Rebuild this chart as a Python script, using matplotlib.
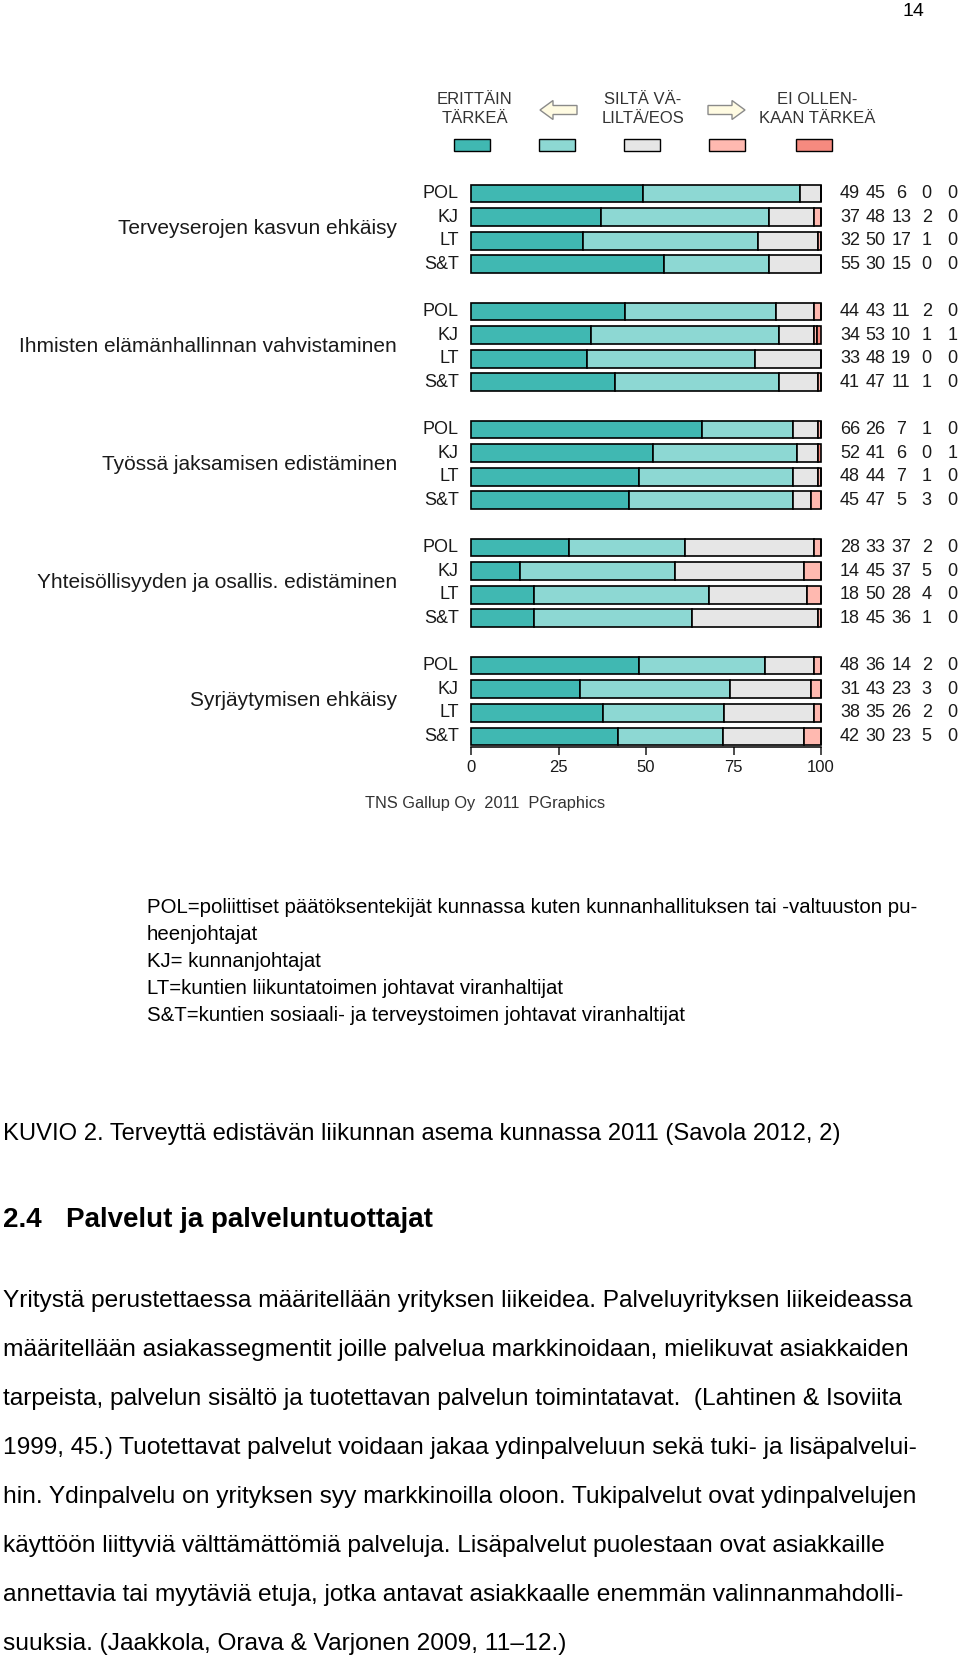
import numpy as np
import matplotlib
matplotlib.use('Agg')
import matplotlib.pyplot as plt
from matplotlib.patches import Rectangle, FancyArrow

plt.rcParams['font.family'] = ['Liberation Sans', 'DejaVu Sans']

# --- data ---
categories = ['Terveyserojen kasvun ehkäisy',
              'Ihmisten elämänhallinnan vahvistaminen',
              'Työssä jaksamisen edistäminen',
              'Yhteisöllisyyden ja osallis. edistäminen',
              'Syrjäytymisen ehkäisy']
respondents = ['POL', 'KJ', 'LT', 'S&T']
answers = ['ERITTÄIN\nTÄRKEÄ', '', 'SILTÄ VÄ-\nLILTÄ/EOS', '', 'EI OLLEN-\nKAAN TÄRKEÄ']

terveyserot = [[49, 45, 6, 0, 0], [37, 48, 13, 2, 0], [32, 50, 17, 1, 0], [55, 30, 15, 0, 0]]
elamanhallinta = [[44, 43, 11, 2, 0], [34, 53, 10, 1, 1], [33, 48, 19, 0, 0], [41, 47, 11, 1, 0]]
tyossa_jaksaminen = [[66, 26, 7, 1, 0], [52, 41, 6, 0, 1], [48, 44, 7, 1, 0], [45, 47, 5, 3, 0]]
yhteisollisyys = [[28, 33, 37, 2, 0], [14, 45, 37, 5, 0], [18, 50, 28, 4, 0], [18, 45, 36, 1, 0]]
syrjaytyminen = [[48, 36, 14, 2, 0], [31, 43, 23, 3, 0], [38, 35, 26, 2, 0], [42, 30, 23, 5, 0]]

ticks = [0, 25, 50, 75, 100]
colors = ['#40b8b2', '#8dd8d3', '#e6e6e6', '#ffb9b0', '#f68a7f']

footnote = ['POL=poliittiset päätöksentekijät kunnassa kuten kunnanhallituksen tai -valtuuston pu-',
            'heenjohtajat',
            'KJ= kunnanjohtajat',
            'LT=kuntien liikuntatoimen johtavat viranhaltijat',
            'S&T=kuntien sosiaali- ja terveystoimen johtavat viranhaltijat']
caption = 'KUVIO 2. Terveyttä edistävän liikunnan asema kunnassa 2011 (Savola 2012, 2)'
body = ['Yritystä perustettaessa määritellään yrityksen liikeidea. Palveluyrityksen liikeideassa',
        'määritellään asiakassegmentit joille palvelua markkinoidaan, mielikuvat asiakkaiden',
        'tarpeista, palvelun sisältö ja tuotettavan palvelun toimintatavat.  (Lahtinen & Isoviita',
        '1999, 45.) Tuotettavat palvelut voidaan jakaa ydinpalveluun sekä tuki- ja lisäpalvelui-',
        'hin. Ydinpalvelu on yrityksen syy markkinoilla oloon. Tukipalvelut ovat ydinpalvelujen',
        'käyttöön liittyviä välttämättömiä palveluja. Lisäpalvelut puolestaan ovat asiakkaille',
        'annettavia tai myytäviä etuja, jotka antavat asiakkaalle enemmän valinnanmahdolli-',
        'suuksia. (Jaakkola, Orava & Varjonen 2009, 11–12.)']
body_ends = [910, 909, 918, 919, 921, 897, 912, 554]

data = np.array([terveyserot, elamanhallinta, tyossa_jaksaminen, yhteisollisyys, syrjaytyminen], float)

fig = plt.figure(figsize=(9.6, 16.6), dpi=100)
renderer = fig.canvas.get_renderer()

# page layer in pixel coordinates
page = fig.add_axes([0, 0, 1, 1])
page.set_xlim(0, 960)
page.set_ylim(1660, 0)
page.axis('off')

# --- bars ---
ax = fig.add_axes([471 / 960, 1 - 747 / 1660, 350 / 960, (747 - 177.4) / 1660])
rows = data.reshape(-1, 5)
rows = rows / rows.sum(axis=1, keepdims=True) * 100
ypos = np.array([g * 5 + r for g in range(len(categories)) for r in range(len(respondents))])
left = np.zeros(len(rows))
for k in range(5):
    ax.barh(ypos, rows[:, k], left=left, height=0.75, color=colors[k],
            edgecolor='black', linewidth=1.2, clip_on=False)
    left += rows[:, k]

raw = data.reshape(-1, 5).astype(int)
for i, y in enumerate(ypos):
    ax.text(-3.5, y, respondents[i % 4], ha='right', va='center', fontsize=13, color='#1a1a1a')
    for k in range(5):
        ax.text(108.3 + 7.3 * k, y, str(raw[i, k]), ha='center', va='center',
                fontsize=13, color='#1a1a1a', clip_on=False)
for g, cat in enumerate(categories):
    ax.text(-21.1, g * 5 + 1.5, cat, ha='right', va='center', fontsize=15, color='#1a1a1a')

ax.set_xlim(0, 100)
ax.set_ylim(23.45, -0.68)
for s in ['top', 'right', 'left']:
    ax.spines[s].set_visible(False)
ax.spines['bottom'].set_bounds(0, 100)
ax.spines['bottom'].set_linewidth(1.1)
ax.set_xticks(ticks)
ax.set_yticks([])
ax.tick_params(axis='x', length=6, width=1.1, labelsize=12, pad=3, colors='#1a1a1a')
ax.patch.set_alpha(0)

# --- legend ---
sw_x = [472, 557, 642, 727, 814]
for k in range(5):
    page.add_patch(Rectangle((sw_x[k] - 18, 139), 36, 12, facecolor=colors[k],
                             edgecolor='black', linewidth=1))
for x, lab in zip([475, 643, 817], [answers[0], answers[2], answers[4]]):
    page.text(x, 109, lab, ha='center', va='center', fontsize=12, color='#333333',
              linespacing=1.3)
for x0, dx in [(577, -37), (708, 37)]:
    page.add_patch(FancyArrow(x0, 110, dx, 0, width=9, head_width=19, head_length=13,
                              length_includes_head=True, facecolor='#fffbe2',
                              edgecolor='#8a8a8a', linewidth=1))

page.text(365, 803, 'TNS Gallup Oy  2011  PGraphics', ha='left', va='center',
          fontsize=11.8, color='#333333')
page.text(913, 11, '14', ha='center', va='center', fontsize=14)


# --- document text ---
def width_at(s, size, weight='normal'):
    t = page.text(0, 0, s, fontsize=size, fontweight=weight)
    w = t.get_window_extent(renderer).width
    t.remove()
    return w


def fitted(lines, ends, x0, weight='normal'):
    sizes = [10 * (e - x0) / width_at(s, 10, weight) for s, e in zip(lines, ends)]
    return float(np.median(sizes))


fn_size = fitted(footnote[:1], [918], 147)
for i, line in enumerate(footnote):
    page.text(147, 907 + 27.2 * i, line, ha='left', va='center', fontsize=fn_size)

page.text(3, 1133.5, caption, ha='left', va='center', fontsize=fitted([caption], [844], 3))

h_size = fitted(['Palvelut ja palveluntuottajat'], [432], 66, 'bold')
page.text(3, 1220, '2.4', ha='left', va='center', fontsize=h_size, fontweight='bold')
page.text(66, 1220, 'Palvelut ja palveluntuottajat', ha='left', va='center',
          fontsize=h_size, fontweight='bold')

b_size = fitted(body[:-1], body_ends[:-1], 3)
for i, line in enumerate(body):
    page.text(3, 1301 + 48.99 * i, line, ha='left', va='center', fontsize=b_size)

fig.savefig('out.png', dpi=100)
